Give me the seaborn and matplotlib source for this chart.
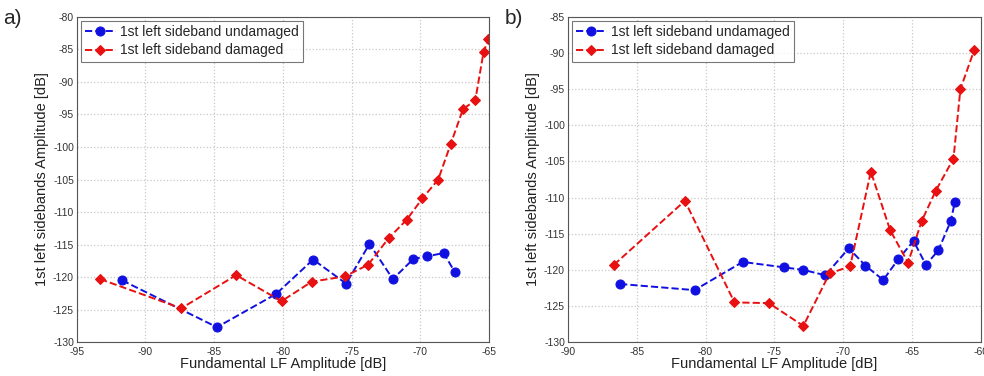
import numpy as np
import pandas as pd
import matplotlib
matplotlib.use("Agg")
import matplotlib.pyplot as plt
import seaborn as sns

# panel a)
a_undamaged_x = [-91.7, -84.8, -80.5, -77.8, -75.4, -73.7, -72.0, -70.5, -69.5, -68.3, -67.5]
a_undamaged_y = [-120.5, -127.7, -122.6, -117.3, -121.0, -114.9, -120.3, -117.2, -116.8, -116.3, -119.2]
a_damaged_x = [-93.3, -87.4, -83.4, -80.1, -77.9, -75.5, -73.8, -72.3, -71.0, -69.85, -68.7,
               -67.8, -66.9, -66.0, -65.4, -65.05]
a_damaged_y = [-120.3, -124.8, -119.7, -123.7, -120.7, -119.9, -118.1, -114.0, -111.2, -107.9, -105.0,
               -99.6, -94.2, -92.8, -85.4, -83.4]

# panel b)
b_undamaged_x = [-86.2, -80.8, -77.3, -74.3, -72.9, -71.3, -69.6, -68.4, -67.1, -66.0, -64.9,
                 -64.0, -63.1, -62.2, -61.9]
b_undamaged_y = [-121.95, -122.8, -118.9, -119.65, -120.0, -120.75, -117.0, -119.4, -121.4, -118.5, -116.0,
                 -119.3, -117.3, -113.25, -110.6]
b_damaged_x = [-86.65, -81.5, -77.9, -75.4, -72.9, -71.0, -69.5, -68.0, -66.6, -65.3, -64.3,
               -63.3, -62.0, -61.5, -60.5]
b_damaged_y = [-119.3, -110.45, -124.5, -124.6, -127.75, -120.5, -119.5, -106.4, -114.5, -119.0, -113.2,
               -109.1, -104.6, -95.0, -89.6]

series_names = ["1st left sideband undamaged", "1st left sideband damaged"]
panel_labels = ["a)", "b)"]
x_ranges = [(-95, -65), (-90, -60)]
y_ranges = [(-130, -80), (-130, -85)]

sns.set_theme(style="whitegrid")
plt.rcParams['font.family'] = ['Liberation Sans', 'DejaVu Sans']
plt.rcParams['axes.unicode_minus'] = False

fig = plt.figure(figsize=(9.84, 3.76), dpi=100)
axes = [fig.add_axes([0.078, 0.09, 0.419, 0.865]),
        fig.add_axes([0.577, 0.09, 0.42, 0.865])]

panels = [
    (a_undamaged_x, a_undamaged_y, a_damaged_x, a_damaged_y),
    (b_undamaged_x, b_undamaged_y, b_damaged_x, b_damaged_y),
]

for i, (ax, (ux, uy, dx, dy)) in enumerate(zip(axes, panels)):
    df_u = pd.DataFrame({"x": ux, "y": uy})
    df_d = pd.DataFrame({"x": dx, "y": dy})
    sns.lineplot(data=df_u, x="x", y="y", ax=ax, sort=False, estimator=None,
                 color="#1010e0", linestyle="--", linewidth=1.4, marker="o",
                 markersize=6.5, markeredgecolor="#1010e0", label=series_names[0])
    sns.lineplot(data=df_d, x="x", y="y", ax=ax, sort=False, estimator=None,
                 color="#e81010", linestyle="--", linewidth=1.4, marker="D",
                 markersize=5.5, markeredgecolor="#e81010", label=series_names[1])

    ax.set_xlim(*x_ranges[i])
    ax.set_ylim(*y_ranges[i])
    ax.set_xticks(np.arange(x_ranges[i][0], x_ranges[i][1] + 1, 5))
    ax.set_yticks(np.arange(y_ranges[i][0], y_ranges[i][1] + 1, 5))
    ax.tick_params(labelsize=7.5, colors="#333333", length=0)
    ax.tick_params(axis="x", pad=3.5)
    ax.tick_params(axis="y", pad=2)
    ax.grid(True, color="#c8c8c8", linestyle=":", linewidth=0.9)
    for s in ax.spines.values():
        s.set_edgecolor("#555555")
        s.set_linewidth(0.8)
    ax.set_xlabel("Fundamental LF Amplitude [dB]", fontsize=10.5, labelpad=0, color="#222222")
    ax.set_ylabel("1st left sidebands Amplitude [dB]", fontsize=10.5, labelpad=3, color="#222222")
    leg = ax.legend(loc="upper left", fontsize=10, frameon=True, fancybox=False,
                    handlelength=2.2, borderpad=0.3, labelspacing=0.3,
                    borderaxespad=0.3, handletextpad=0.3)
    leg.get_frame().set_edgecolor("#555555")
    leg.get_frame().set_linewidth(0.8)

fig.text(0.003, 0.95, panel_labels[0], fontsize=15, va="center")
fig.text(0.513, 0.95, panel_labels[1], fontsize=15, va="center")

fig.savefig("out.png", dpi=100)
